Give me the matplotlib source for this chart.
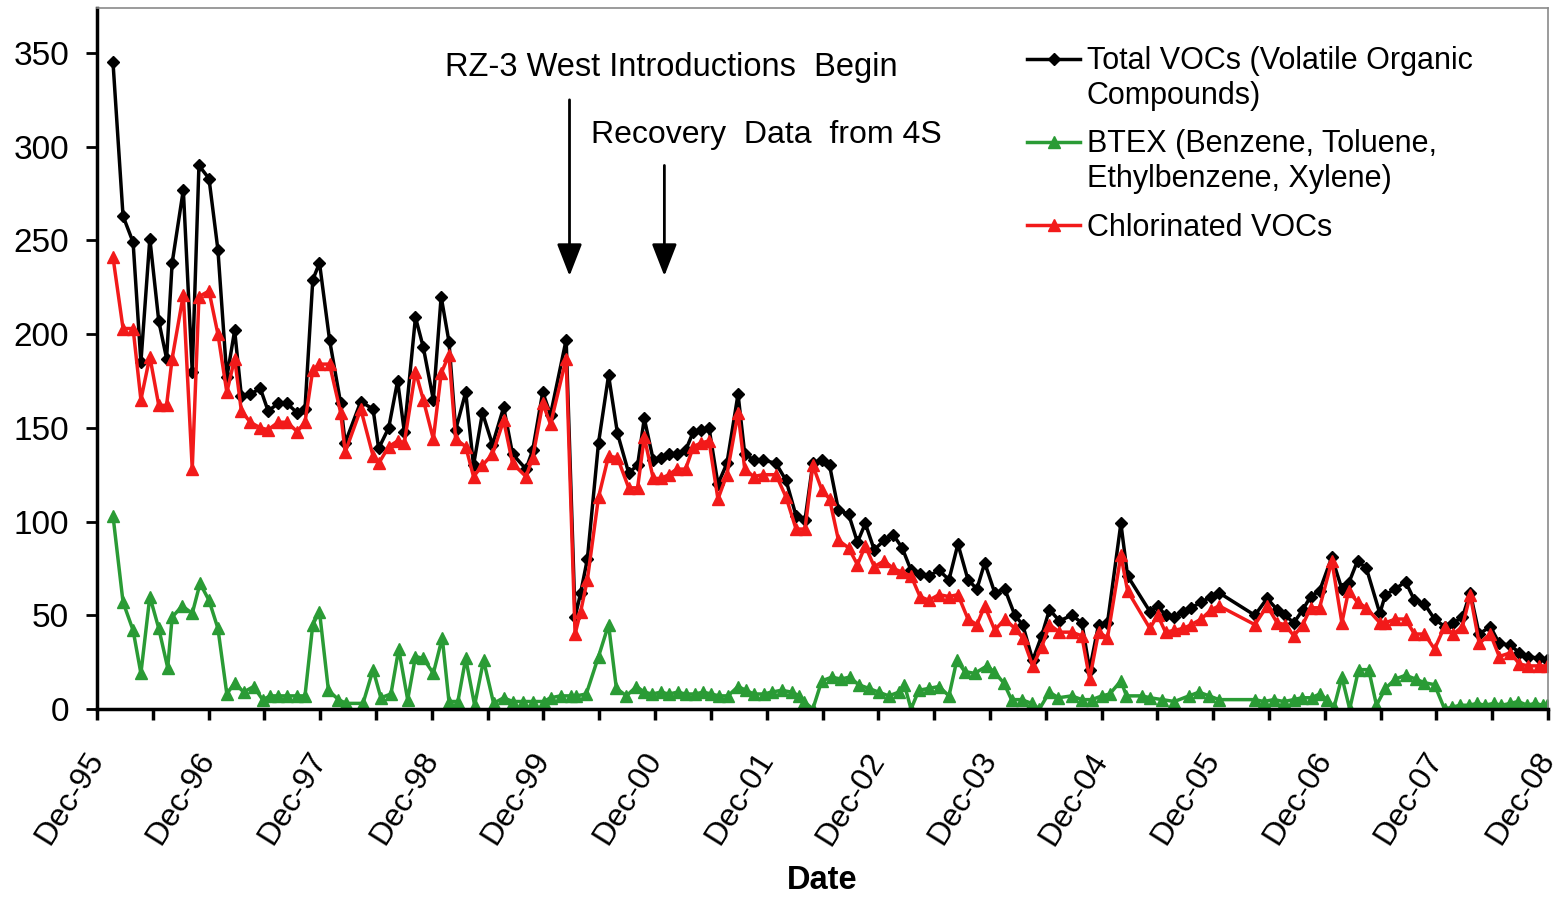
import matplotlib
matplotlib.use("Agg")
import matplotlib.pyplot as plt
from matplotlib.ticker import FixedLocator

plt.rcParams['font.family'] = ['Liberation Sans', 'DejaVu Sans']

# sampling dates (decimal years) for Total VOCs and Chlorinated VOCs
voc_dates = [1996.06, 1996.15, 1996.24, 1996.31, 1996.39, 1996.47, 1996.54, 1996.59, 1996.69, 1996.77,
             1996.83, 1996.92, 1997.00, 1997.08, 1997.15, 1997.21, 1997.29, 1997.38, 1997.45, 1997.54,
             1997.62, 1997.71, 1997.78, 1997.85, 1997.91, 1998.00, 1998.10, 1998.14, 1998.28, 1998.39,
             1998.44, 1998.53, 1998.61, 1998.67, 1998.77, 1998.84, 1998.93, 1999.00, 1999.07, 1999.13,
             1999.22, 1999.29, 1999.37, 1999.46, 1999.56, 1999.64, 1999.76, 1999.82, 1999.91, 1999.98,
             2000.12, 2000.20, 2000.25, 2000.31, 2000.41, 2000.50, 2000.58, 2000.68, 2000.76, 2000.82,
             2000.90, 2000.97, 2001.04, 2001.11, 2001.19, 2001.26, 2001.33, 2001.40, 2001.48, 2001.56,
             2001.66, 2001.72, 2001.80, 2001.88, 2002.00, 2002.09, 2002.18, 2002.26, 2002.33, 2002.41,
             2002.48, 2002.56, 2002.65, 2002.73, 2002.80, 2002.88, 2002.97, 2003.05, 2003.13, 2003.21,
             2003.29, 2003.37, 2003.46, 2003.55, 2003.63, 2003.72, 2003.80, 2003.87, 2003.96, 2004.05,
             2004.14, 2004.21, 2004.30, 2004.38, 2004.45, 2004.54, 2004.65, 2004.74, 2004.81, 2004.89,
             2004.97, 2005.09, 2005.15, 2005.35, 2005.42, 2005.49, 2005.57, 2005.65, 2005.72, 2005.81,
             2005.90, 2005.97, 2006.29, 2006.40, 2006.49, 2006.56, 2006.64, 2006.72, 2006.79, 2006.87,
             2006.98, 2007.07, 2007.13, 2007.21, 2007.29, 2007.41, 2007.46, 2007.55, 2007.64, 2007.72,
             2007.81, 2007.90, 2007.99, 2008.07, 2008.15, 2008.22, 2008.30, 2008.40, 2008.48, 2008.58,
             2008.66, 2008.74, 2008.84, 2008.91]

total_vocs = [345, 263, 249, 185, 251, 207, 187, 238, 277, 180,
              290, 283, 245, 177, 202, 167, 168, 171, 159, 163,
              163, 158, 160, 229, 238, 197, 163, 142, 164, 160,
              139, 150, 175, 148, 209, 193, 165, 220, 196, 149,
              169, 130, 158, 141, 161, 136, 128, 138, 169, 157,
              197, 49, 62, 80, 142, 178, 147, 126, 130, 155,
              133, 134, 136, 136, 138, 148, 149, 150, 120, 131,
              168, 136, 133, 133, 131, 122, 103, 101, 131, 133,
              130, 106, 104, 89, 99, 85, 90, 93, 86, 74,
              72, 71, 74, 69, 88, 69, 64, 78, 62, 64,
              50, 45, 26, 39, 53, 47, 50, 46, 21, 45,
              46, 99, 71, 52, 55, 50, 49, 52, 54, 57,
              60, 62, 50, 59, 53, 50, 46, 53, 60, 63,
              81, 64, 67, 79, 75, 51, 61, 64, 68, 58,
              56, 48, 44, 46, 49, 62, 40, 44, 35, 34,
              30, 28, 27, 26]

chlorinated = [241, 203, 203, 165, 188, 162, 162, 187, 221, 128,
               220, 223, 200, 169, 187, 159, 153, 150, 149, 153,
               153, 148, 153, 181, 184, 184, 158, 137, 160, 135,
               131, 140, 143, 142, 180, 165, 144, 179, 189, 144,
               140, 124, 130, 136, 154, 131, 124, 134, 163, 152,
               187, 40, 52, 69, 113, 135, 134, 118, 118, 145,
               123, 123, 125, 128, 128, 140, 142, 143, 112, 125,
               158, 128, 124, 125, 125, 113, 96, 96, 130, 117,
               112, 90, 86, 77, 87, 76, 79, 75, 73, 71,
               60, 58, 61, 60, 61, 48, 45, 55, 42, 48,
               43, 38, 23, 33, 45, 41, 41, 39, 16, 41,
               38, 82, 63, 43, 50, 41, 42, 43, 45, 48,
               53, 55, 45, 55, 46, 45, 39, 45, 54, 54,
               79, 46, 63, 57, 54, 46, 46, 48, 48, 40,
               40, 32, 44, 40, 44, 61, 35, 40, 28, 30,
               24, 23, 23, 23]

btex_dates = [1996.06, 1996.15, 1996.24, 1996.31, 1996.39, 1996.47, 1996.55, 1996.59, 1996.68, 1996.77,
              1996.84, 1996.92, 1997.00, 1997.08, 1997.15, 1997.23, 1997.32, 1997.40, 1997.47, 1997.54,
              1997.62, 1997.71, 1997.78, 1997.85, 1997.91, 1997.99, 1998.08, 1998.15, 1998.30, 1998.39,
              1998.46, 1998.55, 1998.62, 1998.70, 1998.77, 1998.84, 1998.93, 1999.01, 1999.07, 1999.15,
              1999.22, 1999.30, 1999.38, 1999.47, 1999.56, 1999.64, 1999.73, 1999.82, 1999.92, 1999.98,
              2000.07, 2000.16, 2000.21, 2000.30, 2000.41, 2000.50, 2000.57, 2000.66, 2000.75, 2000.82,
              2000.89, 2000.97, 2001.04, 2001.12, 2001.19, 2001.27, 2001.35, 2001.42, 2001.49, 2001.57,
              2001.66, 2001.73, 2001.80, 2001.89, 2001.96, 2002.05, 2002.14, 2002.21, 2002.25, 2002.33,
              2002.41, 2002.50, 2002.58, 2002.66, 2002.74, 2002.83, 2002.92, 2003.01, 2003.10, 2003.15,
              2003.21, 2003.28, 2003.37, 2003.46, 2003.55, 2003.62, 2003.69, 2003.78, 2003.89, 2003.95,
              2004.04, 2004.11, 2004.20, 2004.29, 2004.36, 2004.45, 2004.53, 2004.65, 2004.74, 2004.83,
              2004.92, 2004.99, 2005.09, 2005.14, 2005.28, 2005.35, 2005.46, 2005.57, 2005.70, 2005.79,
              2005.88, 2005.97, 2006.29, 2006.37, 2006.46, 2006.55, 2006.64, 2006.71, 2006.80, 2006.87,
              2006.94, 2007.00, 2007.07, 2007.14, 2007.22, 2007.31, 2007.38, 2007.46, 2007.55, 2007.64,
              2007.73, 2007.81, 2007.90, 2007.99, 2008.06, 2008.13, 2008.21, 2008.28, 2008.35, 2008.43,
              2008.50, 2008.58, 2008.65, 2008.73, 2008.80, 2008.87, 2008.91]

btex = [103, 57, 42, 19, 60, 43, 22, 49, 55, 51,
        67, 58, 43, 8, 14, 9, 12, 5, 7, 7,
        7, 7, 7, 45, 52, 10, 5, 3, 3, 21,
        6, 8, 32, 5, 28, 27, 19, 38, 4, 4,
        27, 2, 26, 3, 6, 4, 4, 4, 4, 6,
        7, 7, 7, 8, 28, 45, 11, 7, 12, 9,
        8, 9, 8, 9, 8, 8, 9, 8, 7, 7,
        12, 10, 8, 8, 9, 10, 9, 7, 4, 0,
        15, 17, 16, 17, 13, 11, 9, 7, 9, 13,
        0, 10, 11, 12, 7, 26, 20, 19, 23, 20,
        14, 5, 5, 3, 0, 9, 6, 7, 5, 5,
        7, 8, 15, 7, 7, 6, 5, 4, 7, 9,
        7, 5, 5, 4, 5, 4, 5, 6, 6, 8,
        5, 1, 17, 0, 21, 21, 2, 11, 16, 18,
        16, 14, 13, 0, 1, 2, 2, 3, 2, 3,
        2, 3, 4, 2, 3, 2, 2]

year_labels = ['Dec-95', 'Dec-96', 'Dec-97', 'Dec-98', 'Dec-99', 'Dec-00', 'Dec-01',
               'Dec-02', 'Dec-03', 'Dec-04', 'Dec-05', 'Dec-06', 'Dec-07', 'Dec-08']
year_ticks = [1995 + 11/12 + i for i in range(len(year_labels))]

fig = plt.figure(figsize=(15.62, 8.98), dpi=100)
ax = fig.add_axes([97/1562, 189/898, 1451/1562, 701/898])

green = '#2a9b35'
red = '#f21a1a'
ax.plot(voc_dates, total_vocs, color='black', lw=2.5, marker='D', ms=6.5,
        label='Total VOCs (Volatile Organic\nCompounds)')
ax.plot(btex_dates, btex, color=green, lw=2.5, marker='^', ms=8.5,
        label='BTEX (Benzene, Toluene,\nEthylbenzene, Xylene)')
ax.plot(voc_dates, chlorinated, color=red, lw=2.5, marker='^', ms=8.5,
        label='Chlorinated VOCs')

ax.set_xlim(year_ticks[0], year_ticks[-1])
ax.set_ylim(0, 374)
ax.set_yticks(range(0, 351, 50))
ax.xaxis.set_major_locator(FixedLocator(year_ticks))
ax.xaxis.set_minor_locator(FixedLocator([t + 0.5 for t in year_ticks[:-1]]))
ax.set_xticklabels(year_labels, rotation=58, ha='right', va='center', rotation_mode='anchor')

ax.tick_params(axis='y', direction='out', length=8, width=2, labelsize=24, pad=12)
ax.tick_params(axis='x', which='both', direction='out', length=8, width=2.5)
ax.tick_params(axis='x', which='major', labelsize=23, pad=25)

for s in ['left', 'bottom']:
    ax.spines[s].set_linewidth(2.5)
    ax.spines[s].set_color('black')
for s in ['top', 'right']:
    ax.spines[s].set_linewidth(1.2)
    ax.spines[s].set_color('#8a8a8a')

ax.set_xlabel('Date', fontsize=23.5, fontweight='bold')
ax.xaxis.set_label_coords(0.5, -0.222)

# annotations
ax.text(2001.06, 342, 'RZ-3 West Introductions  Begin', fontsize=23.5, ha='center', va='center')
ax.annotate('', xy=(2000.15, 231), xytext=(2000.15, 325),
            arrowprops=dict(arrowstyle='-|>,head_length=0.9,head_width=0.35', lw=2,
                            color='black', mutation_scale=22, shrinkA=0, shrinkB=0))
ax.text(2001.91, 306, 'Recovery  Data  from 4S', fontsize=23, ha='center', va='center')
ax.annotate('', xy=(2001.00, 231), xytext=(2001.00, 290),
            arrowprops=dict(arrowstyle='-|>,head_length=0.9,head_width=0.35', lw=2,
                            color='black', mutation_scale=22, shrinkA=0, shrinkB=0))

leg = ax.legend(loc='upper left', bbox_to_anchor=(1027/1562, 1 - 46/898),
                bbox_transform=fig.transFigure, frameon=False, fontsize=22,
                handlelength=1.75, handletextpad=0.2, borderpad=0, borderaxespad=0,
                labelspacing=0.6, handleheight=1.1)
for t in leg.get_texts():
    t.set_linespacing(1.22)
for col in leg._legend_handle_box.get_children():
    for row in col.get_children():
        row.align = 'top'

fig.savefig('out.png', dpi=100)
